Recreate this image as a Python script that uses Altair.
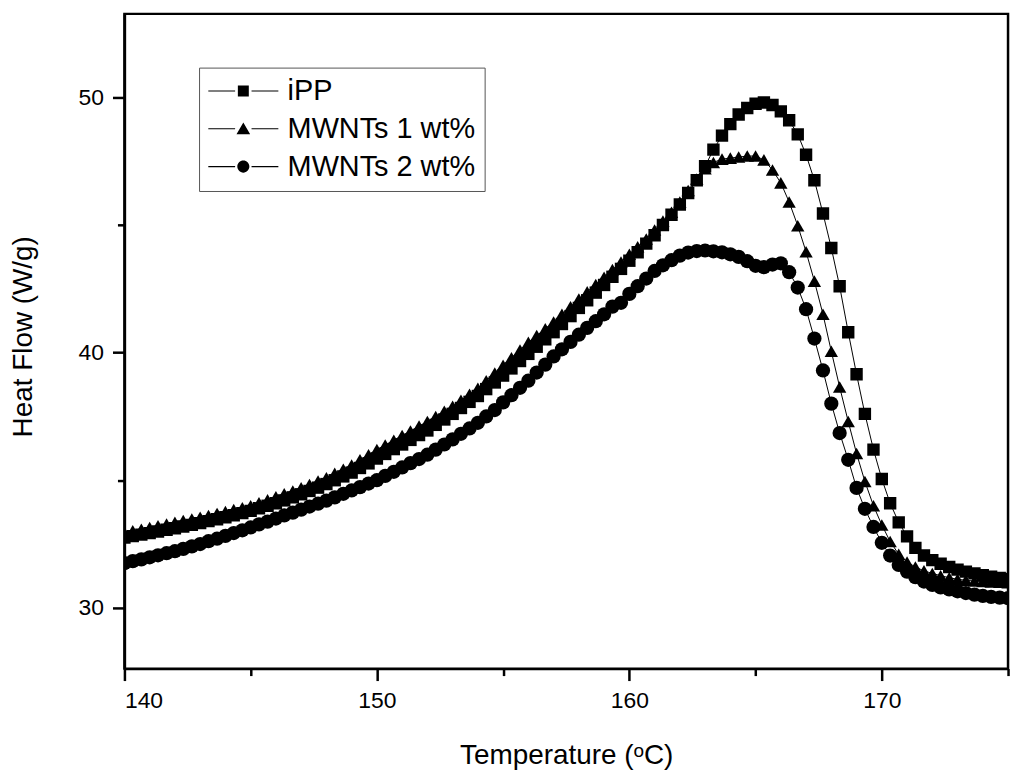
import pandas as pd
import altair as alt

# DSC melting curves, one reading every 1/3 degC from 139.67 to 175.33
ipp = [32.69, 32.75, 32.81, 32.87, 32.93, 32.99, 33.06, 33.12, 33.19, 33.25,
       33.32, 33.40, 33.47, 33.55, 33.63, 33.71, 33.80, 33.90, 34.00, 34.10,
       34.21, 34.33, 34.45, 34.58, 34.71, 34.85, 35.00, 35.15, 35.30, 35.48,
       35.66, 35.85, 36.03, 36.22, 36.40, 36.58, 36.77, 36.95, 37.17, 37.38,
       37.60, 37.83, 38.07, 38.30, 38.57, 38.83, 39.10, 39.38, 39.67, 39.95,
       40.23, 40.52, 40.80, 41.12, 41.43, 41.75, 42.05, 42.35, 42.65, 42.97,
       43.28, 43.60, 43.93, 44.27, 44.60, 45.00, 45.40, 45.80, 46.25, 46.75,
       47.30, 47.95, 48.50, 48.95, 49.33, 49.58, 49.75, 49.80, 49.70, 49.45,
       49.10, 48.55, 47.75, 46.75, 45.45, 44.10, 42.60, 40.80, 39.15, 37.60,
       36.20, 35.05, 34.10, 33.35, 32.80, 32.35, 32.05, 31.87, 31.73, 31.60,
       31.50, 31.42, 31.35, 31.28, 31.22, 31.17, 31.13, 31.10]

mwnt1 = [32.88, 32.95, 33.02, 33.08, 33.15, 33.22, 33.28, 33.35, 33.42, 33.48,
         33.55, 33.62, 33.70, 33.77, 33.85, 33.92, 34.00, 34.12, 34.23, 34.35,
         34.47, 34.58, 34.70, 34.83, 34.97, 35.10, 35.27, 35.43, 35.60, 35.80,
         36.00, 36.20, 36.38, 36.57, 36.75, 36.93, 37.12, 37.30, 37.50, 37.70,
         37.90, 38.13, 38.37, 38.60, 38.90, 39.20, 39.50, 39.80, 40.10, 40.40,
         40.67, 40.93, 41.20, 41.50, 41.80, 42.10, 42.38, 42.67, 42.95, 43.25,
         43.55, 43.85, 44.15, 44.45, 44.80, 45.15, 45.50, 45.90, 46.35, 46.80,
         47.20, 47.45, 47.58, 47.62, 47.66, 47.70, 47.70, 47.55, 47.15, 46.65,
         45.90, 44.97, 43.95, 42.80, 41.50, 40.05, 38.65, 37.30, 36.05, 34.95,
         34.00, 33.25, 32.60, 32.10, 31.80, 31.60, 31.45, 31.35, 31.26, 31.18,
         31.12, 31.08, 31.05, 31.03, 31.01, 31.00, 30.99, 30.98]

mwnt2 = [31.68, 31.75, 31.83, 31.90, 31.98, 32.06, 32.14, 32.22, 32.31, 32.41,
         32.50, 32.61, 32.71, 32.82, 32.93, 33.04, 33.15, 33.27, 33.38, 33.50,
         33.62, 33.73, 33.85, 33.97, 34.08, 34.20, 34.33, 34.47, 34.60, 34.73,
         34.87, 35.00, 35.17, 35.33, 35.50, 35.67, 35.83, 36.00, 36.20, 36.40,
         36.60, 36.82, 37.03, 37.25, 37.50, 37.75, 38.05, 38.33, 38.62, 38.90,
         39.22, 39.53, 39.85, 40.13, 40.42, 40.70, 40.97, 41.23, 41.50, 41.80,
         41.95, 42.30, 42.60, 42.90, 43.20, 43.42, 43.62, 43.80, 43.92, 43.98,
         44.00, 43.97, 43.93, 43.85, 43.75, 43.58, 43.40, 43.35, 43.45, 43.50,
         43.15, 42.55, 41.70, 40.55, 39.30, 38.00, 36.85, 35.80, 34.70, 33.88,
         33.17, 32.55, 32.05, 31.68, 31.42, 31.20, 31.03, 30.90, 30.80, 30.72,
         30.65, 30.58, 30.52, 30.47, 30.43, 30.40, 30.38, 30.36]

names = ['iPP', 'MWNTs 1 wt%', 'MWNTs 2 wt%']
x_ticks = [140, 145, 150, 155, 160, 165, 170, 175]
y_ticks = [30, 35, 40, 45, 50]

rows = []
for name, vals in zip(names, [ipp, mwnt1, mwnt2]):
    for i, v in enumerate(vals):
        rows.append({'temp': round(140 + (i - 1) / 3, 2), 'heat': v, 'series': name})
df = pd.DataFrame(rows)

# legend symbols: line - marker - line, as filled custom paths
stubs = 'M-6.4,-0.1H-1.5V0.1H-6.4ZM1.5,-0.1H6.4V0.1H1.5Z'
sym_paths = [
    stubs + 'M-1,-1H1V1H-1Z',
    stubs + 'M0,-1.15L1.25,1L-1.25,1Z',
    stubs + 'M1.1,0A1.1,1.1,0,1,1,-1.1,0A1.1,1.1,0,1,1,1.1,0Z',
]

font = 'Liberation Sans'

x_enc = alt.X('temp:Q', title='Temperature (ᵒC)',
              scale=alt.Scale(domain=[140, 175], nice=False, zero=False),
              axis=alt.Axis(values=x_ticks,
                            labelExpr="datum.value % 10 === 0 ? datum.label : ''",
                            tickSize={'condition': {'test': 'datum.value % 10 === 0', 'value': 12}, 'value': 7},
                            labelPadding=9, titleY=95, titleBaseline='alphabetic'))
y_enc = alt.Y('heat:Q', title='Heat Flow (W/g)',
              scale=alt.Scale(domain=[27.62, 53.27], nice=False, zero=False),
              axis=alt.Axis(values=y_ticks,
                            labelExpr="datum.value % 10 === 0 ? datum.label : ''",
                            tickSize={'condition': {'test': 'datum.value % 10 === 0', 'value': 12}, 'value': 7},
                            labelPadding=9, titleX=-93, titleY=324, titleBaseline='alphabetic'))

base = alt.Chart(df)

lines = base.mark_line(color='black', strokeWidth=1, clip=True).encode(
    x=x_enc, y=y_enc, detail='series:N', order='temp:Q'
)

points = base.mark_point(filled=True, color='black', opacity=1, clip=True).encode(
    x=x_enc, y=y_enc,
    shape=alt.Shape('series:N', scale=alt.Scale(domain=names, range=['square', 'triangle-up', 'circle']), legend=None),
    size=alt.Size('series:N', scale=alt.Scale(domain=names, range=[155, 205, 170]), legend=None),
)

legend_layer = base.transform_filter('false').mark_point(
    filled=True, fill='black', opacity=1
).encode(
    shape=alt.Shape('series:N', scale=alt.Scale(domain=names, range=sym_paths),
                    legend=alt.Legend(title=None, orient='none', legendX=75, legendY=54,
                                      strokeColor='#555', padding=9, symbolSize=121,
                                      symbolOffset=21, labelOffset=30, rowPadding=8,
                                      symbolOpacity=1, symbolFillColor='black',
                                      labelFont=font, labelFontSize=29,
                                      labelColor='black', labelLimit=500))
)

chart = alt.layer(lines, points, legend_layer).resolve_scale(
    shape='independent'
).properties(
    width=888, height=658,
    autosize=alt.AutoSizeParams(type='none'),
    padding={'left': 117, 'top': 4, 'right': 8, 'bottom': 104},
).configure_view(
    stroke='black', strokeWidth=2.5
).configure_axis(
    grid=False, domainColor='black', domainWidth=2.5, tickColor='black', tickWidth=2.5,
    labelFont=font, labelFontSize=23, labelColor='black',
    titleFont=font, titleFontSize=28, titleFontWeight='normal', titleColor='black'
)

chart.save('out.html', embed_options={'renderer': 'svg', 'actions': False})
